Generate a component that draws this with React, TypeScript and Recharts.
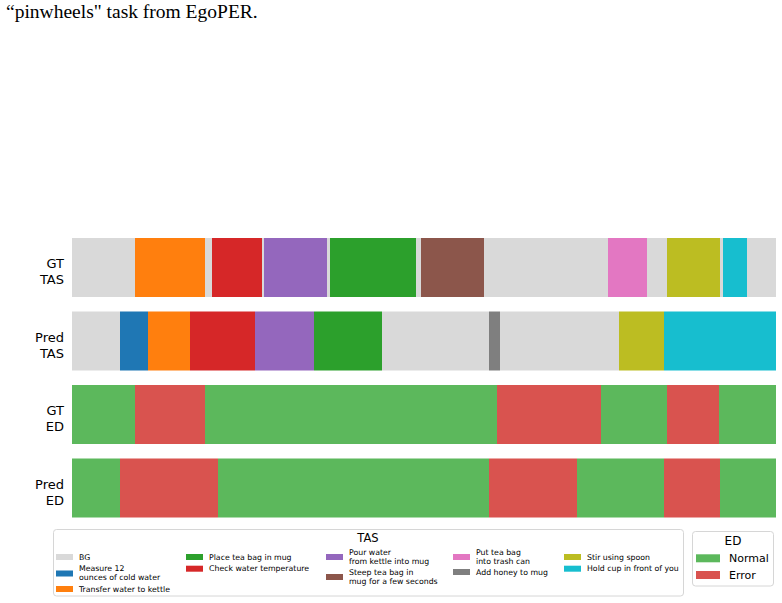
import { BarChart, Bar, XAxis, YAxis, Cell } from "recharts";

// TAS classes (index 0 = background)
const tasNames = [
  "BG",
  "Measure 12\nounces of cold water",
  "Transfer water to kettle",
  "Place tea bag in mug",
  "Check water temperature",
  "Pour water\nfrom kettle into mug",
  "Steep tea bag in\nmug for a few seconds",
  "Put tea bag\ninto trash can",
  "Add honey to mug",
  "Stir using spoon",
  "Hold cup in front of you",
];
const tasColors = [
  "#d9d9d9", "#1f77b4", "#ff7f0e", "#2ca02c", "#d62728",
  "#9467bd", "#8c564b", "#e377c2", "#7f7f7f", "#bcbd22", "#17becf",
];
const edNames = ["Normal", "Error"];
const edColors = ["#5cb85c", "#d9534f"];

const rowNames = ["GT\nTAS", "Pred\nTAS", "GT\nED", "Pred\nED"];

// segments: class index + duration (frames)
const gtTasLabels = [0, 2, 0, 4, 0, 5, 0, 3, 0, 6, 0, 7, 0, 9, 0, 10, 0];
const gtTasLengths = [63, 70, 7, 50, 2, 63, 3, 86, 5, 63, 124, 39, 20, 53, 3, 24, 29];
const predTasLabels = [0, 1, 2, 4, 5, 3, 0, 8, 0, 9, 10];
const predTasLengths = [48, 28, 42, 65, 59, 68, 107, 11, 119, 45, 112];
const gtEdLabels = [0, 1, 0, 1, 0, 1, 0];
const gtEdLengths = [63, 70, 292, 104, 66, 52, 57];
const predEdLabels = [0, 1, 0, 1, 0, 1, 0];
const predEdLengths = [48, 98, 271, 88, 87, 56, 56];

const TOTAL = 704;

const rowLabels = [gtTasLabels, predTasLabels, gtEdLabels, predEdLabels];
const rowLengths = [gtTasLengths, predTasLengths, gtEdLengths, predEdLengths];
const rowPalette = [tasColors, tasColors, edColors, edColors];

const maxSegs = Math.max(...rowLengths.map((r) => r.length));

const data = rowNames.map((name, r) => {
  const row: any = { name };
  rowLengths[r].forEach((len, i) => {
    row["s" + i] = len;
  });
  return row;
});

// legend placement (column x, centre y)
const tasLegendPos = [
  [56, 557], [56, 573.5], [56, 589],
  [186, 557], [186, 568.7],
  [326, 557], [326, 577],
  [453, 557], [453, 572],
  [564, 557], [564, 568.7],
];
const tasOrder = [0, 1, 2, 3, 4, 5, 6, 7, 8, 9, 10];

function RowTick(props: any) {
  const { x, y, payload } = props;
  const lines = String(payload.value).split("\n");
  return (
    <text x={x} textAnchor="end" fontSize={13} fill="#000" fontFamily="DejaVu Sans">
      <tspan x={x} y={y + 0.7}>{lines[0]}</tspan>
      <tspan x={x} y={y + 16.5}>{lines[1]}</tspan>
    </text>
  );
}

function Legends() {
  const font = "DejaVu Sans";
  return (
    <svg width={782} height={603} style={{ position: "absolute", left: 0, top: 0, pointerEvents: "none" }}>
      <rect x={53.5} y={529.5} width={630} height={66.5} rx={3} fill="#fff" stroke="#d6d6d6" />
      <text x={368} y={538} fontSize={11.5} fontFamily={font} textAnchor="middle" dominantBaseline="central">TAS</text>
      {tasOrder.map((k) => {
        const [px, cy] = tasLegendPos[k];
        const lines = tasNames[k].split("\n");
        const tx = px + 23;
        return (
          <g key={k}>
            <rect x={px} y={cy - 3} width={17} height={6} fill={tasColors[k]} />
            {lines.map((ln, j) => (
              <text
                key={j}
                x={tx}
                y={cy + (j - (lines.length - 1) / 2) * 9 - (lines.length > 1 ? 0.5 : 0)}
                fontSize={7.8}
                fontFamily={font}
                fill="#000"
                dominantBaseline="central"
              >
                {ln}
              </text>
            ))}
          </g>
        );
      })}
      <rect x={692.5} y={531.5} width={81} height={54.5} rx={3} fill="#fff" stroke="#d6d6d6" />
      <text x={733} y={541} fontSize={12} fontFamily={font} textAnchor="middle" dominantBaseline="central">ED</text>
      {edNames.map((n, k) => (
        <g key={n}>
          <rect x={696} y={(k ? 575 : 558.3) - 4} width={24} height={8} fill={edColors[k]} />
          <text x={729} y={k ? 575 : 558.3} fontSize={11} fontFamily={font} dominantBaseline="central">{n}</text>
        </g>
      ))}
    </svg>
  );
}

export default function App() {
  const bars = [];
  for (let i = 0; i < maxSegs; i++) {
    bars.push(
      <Bar key={i} dataKey={"s" + i} stackId="a" barSize={59} isAnimationActive={false}>
        {data.map((_, r) => {
          const lab = rowLabels[r][i];
          return <Cell key={r} fill={lab === undefined ? "none" : rowPalette[r][lab]} />;
        })}
      </Bar>
    );
  }

  return (
    <div style={{ position: "absolute", left: 0, top: 0, width: 782, height: 603, background: "#fff" }}>
      <div
        style={{
          position: "absolute",
          left: 6,
          top: 0,
          fontFamily: "Liberation Serif",
          fontSize: 19.5,
          lineHeight: "23px",
          color: "#000",
          whiteSpace: "nowrap",
        }}
      >
        “pinwheels" task from EgoPER.
      </div>
      <div style={{ position: "absolute", left: 0, top: 0 }}>
        <BarChart
          width={782}
          height={603}
          data={data}
          layout="vertical"
          margin={{ top: 231, right: 6, bottom: 78, left: 0 }}
        >
          <XAxis type="number" domain={[0, TOTAL]} hide allowDataOverflow />
          <YAxis
            type="category"
            dataKey="name"
            width={72}
            axisLine={false}
            tickLine={false}
            tick={<RowTick />}
            interval={0}
          />
          {bars}
        </BarChart>
      </div>
      <Legends />
    </div>
  );
}
